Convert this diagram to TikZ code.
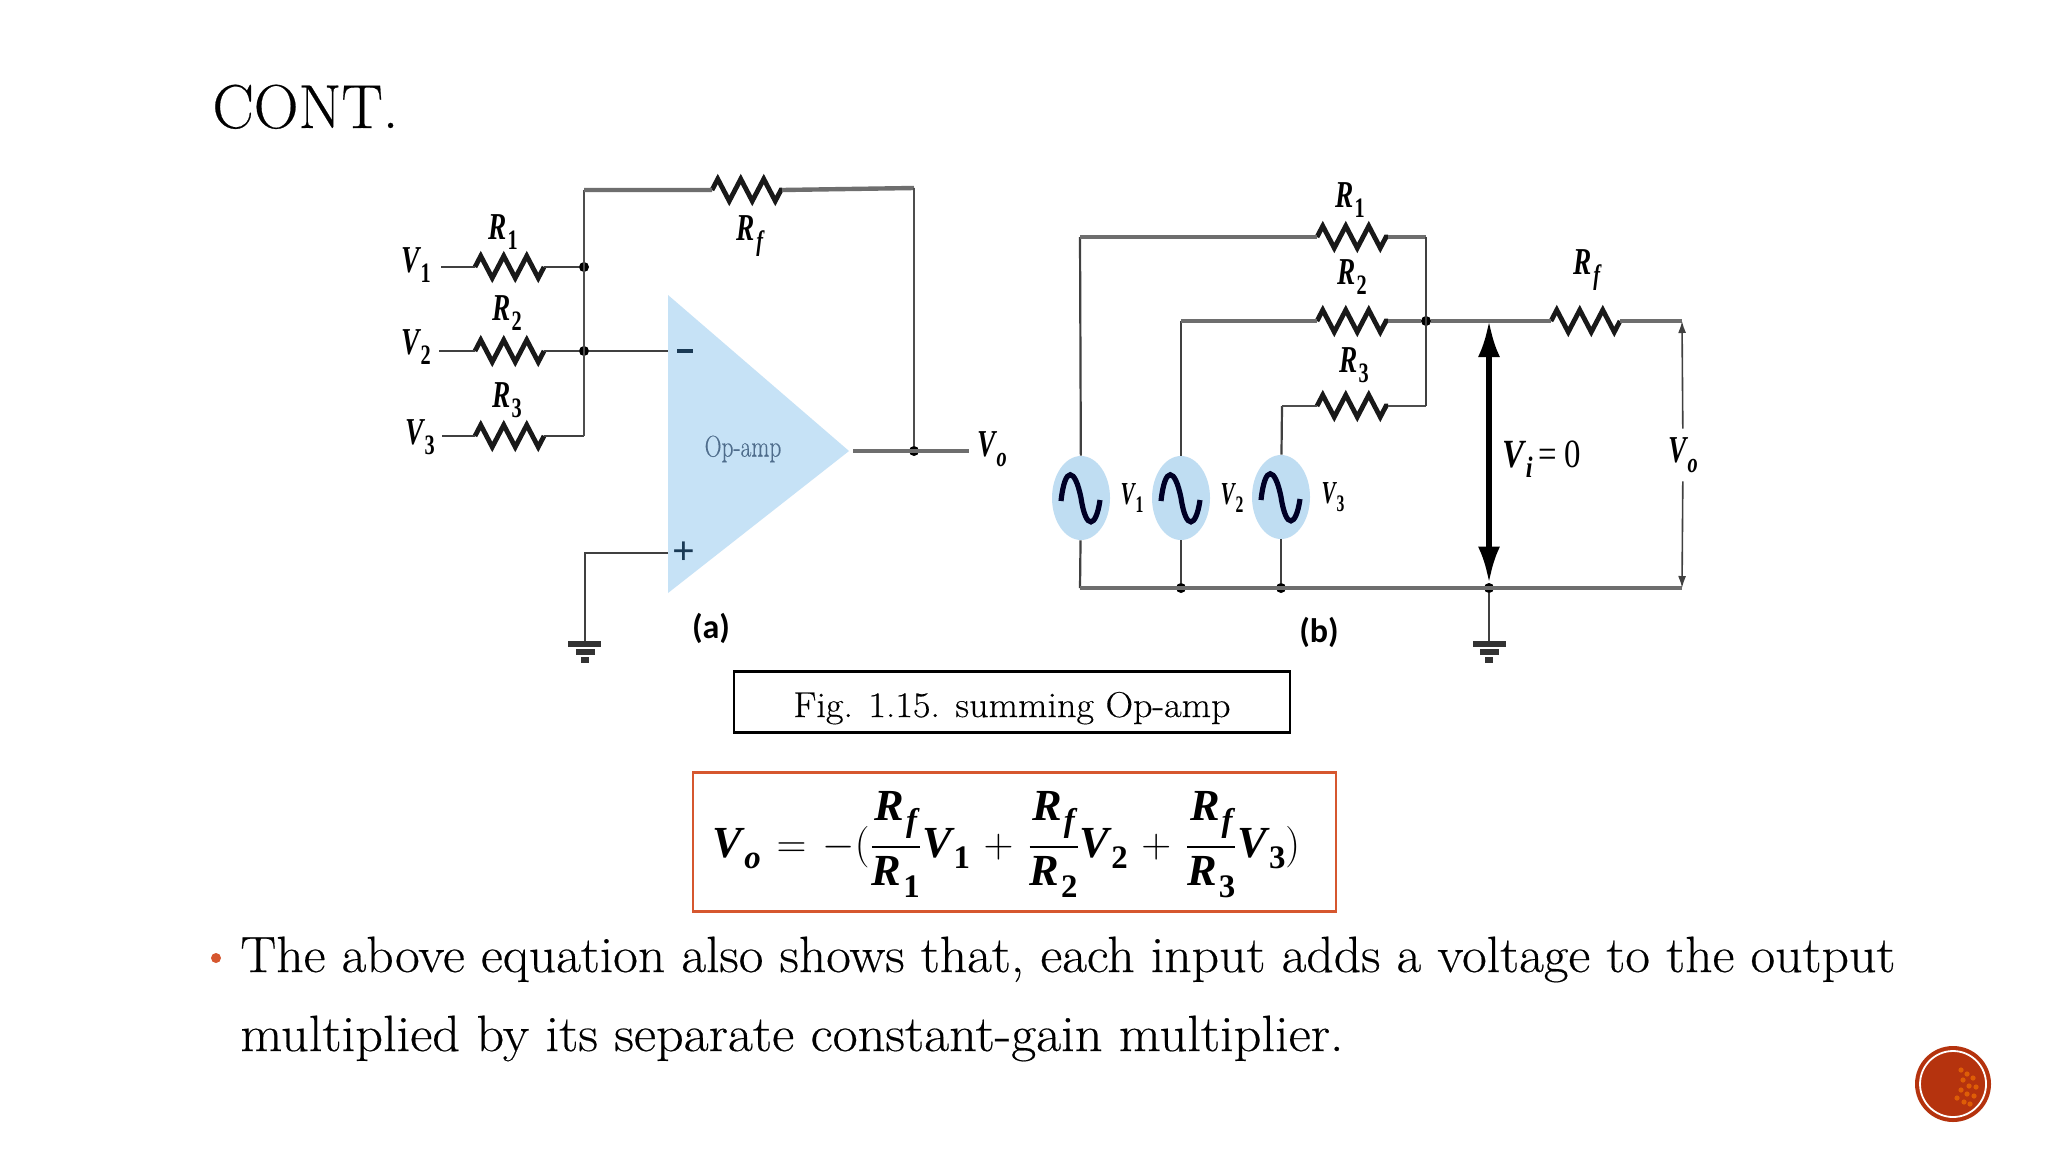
\documentclass[tikz,border=0pt]{standalone}
\usepackage{amsmath}
\usepackage{graphicx}
\usepackage{fontspec}
\usetikzlibrary{calc,arrows.meta,shapes.geometric,decorations.pathmorphing}
\setmainfont{Latin Modern Roman}[FakeBold=.35]
\newfontfamily\labelfont{Carlito}
\newfontfamily\eqfont{Liberation Serif}
\newcommand{\eqsym}[2]{\mbox{\eqfont\bfseries\itshape #1\kern.04em\raisebox{-.26em}{\fontsize{.74em}{1em}\selectfont\upshape #2}}}
\newcommand{\eqfrac}[2]{\genfrac{}{}{1.1pt}{}{#1}{#2}}
\definecolor{opblue}{HTML}{C6E2F6}
\definecolor{srcblue}{HTML}{BFDDF2}
\definecolor{slidered}{HTML}{B5330E}
\definecolor{boxred}{HTML}{D6572F}
\definecolor{wiregray}{HTML}{6E6E6E}
\definecolor{optext}{HTML}{4F6D8C}
\definecolor{signcol}{HTML}{1A3A55}
\begin{document}
\begin{tikzpicture}[x=.5pt,y=-.5pt,
				wire/.style={draw=wiregray!70!black,line width=1.4pt},
				thinwire/.style={draw=black!75,line width=1.1pt},
				fatwire/.style={draw=wiregray,line width=2.2pt},
				resistor/.style={draw=black!90,line width=2.4pt,decorate,decoration={zigzag,segment length=11.5pt,amplitude=5.5pt}},
				jdot/.style={circle,fill=black,inner sep=0pt,minimum size=5pt},
				lab/.style={inner sep=0pt,font=\fontsize{19}{22}\selectfont,xscale=.72},
				srclab/.style={inner sep=0pt,font=\fontsize{16}{19}\selectfont,xscale=.66},
				source/.style={ellipse,fill=srcblue,inner sep=0pt,minimum width=29pt,minimum height=42pt},
				sine/.style={draw=black!85!blue,line width=2.6pt},
				gbar/.style={draw=black!80,line width=2.8pt},
				tag/.style={inner sep=0pt,font=\labelfont\bfseries\fontsize{17}{20}\selectfont}]
				\path[fill=white,use as bounding box] (0,0) rectangle (2048,1152);

				\node (TITLE) [anchor=base west,inner sep=0pt,font=\fontsize{31}{36}\selectfont] at (212,128) {CONT.};

				\coordinate (TL) at (668,295);
				\coordinate (BL) at (668,593);
				\coordinate (TIP) at (849,451);
				\fill[opblue] (TL) -- (TIP) -- (BL) -- cycle;
				\node (OPAMP) [inner sep=0pt,text=optext,font=\fontsize{15}{18}\selectfont,xscale=.78] at (743,449) {Op-amp};
				\node (MINUS) [inner sep=0pt,text=signcol] at (685,351) {\rule{8pt}{2pt}};
				\node (PLUS)  [inner sep=0pt,text=signcol,font=\eqfont\bfseries\fontsize{20}{22}\selectfont] at (684,553) {+};

				\node (V1A) [lab] at (416,265) {\eqsym{V}{1}};
				\node (V2A) [lab] at (416,347) {\eqsym{V}{2}};
				\node (V3A) [lab] at (420,437) {\eqsym{V}{3}};
				\node (R1A) [lab] at (503,232) {\eqsym{R}{1}};
				\node (R2A) [lab] at (507,313) {\eqsym{R}{2}};
				\node (R3A) [lab] at (507,400) {\eqsym{R}{3}};
				\node (RFA) [lab] at (750,236) {\eqsym{R}{\itshape f}};
				\node (VOA) [lab] at (992,449) {\eqsym{V}{\itshape o}};

				\coordinate (I1) at (441,267);
				\coordinate (I2) at (439,351);
				\coordinate (I3) at (442,436);
				\coordinate (R1L) at (475,267);
				\coordinate (R1R) at (544,267);
				\coordinate (R2L) at (475,351);
				\coordinate (R2R) at (544,351);
				\coordinate (R3L) at (475,436);
				\coordinate (R3R) at (544,436);
				\coordinate (RFL) at (712,190);
				\coordinate (RFR) at (782,190);
				\coordinate (CT) at (584,190);
				\coordinate (C3) at (584,436);
				\coordinate (FT) at (914,188);
				\coordinate (NEG) at (668,351);
				\coordinate (POS) at (668,553);
				\coordinate (PC) at (585,553);
				\coordinate (GA) at (585,643);
				\coordinate (OS) at (853,451);
				\coordinate (OE) at (969,451);
				\node (J1) [jdot] at (584,267) {};
				\node (J2) [jdot] at (584,351) {};
				\node (JO) [jdot] at (914,451) {};

				\draw[resistor] (R1L) -- (R1R);
				\draw[resistor] (R2L) -- (R2R);
				\draw[resistor] (R3L) -- (R3R);
				\draw[resistor] (RFL) -- (RFR);
				\draw[thinwire] (I1) -- (R1L) (R1R) -- (J1);
				\draw[thinwire] (I2) -- (R2L) (R2R) -- (J2) -- (NEG);
				\draw[thinwire] (R3R) -- (C3) (I3) -- (R3L);
				\draw[wire] (C3) -- (CT);
				\draw[fatwire] (CT) -- (RFL) (RFR) -- (FT);
				\draw[wire] (FT) -- (JO);
				\draw[thinwire] (POS) -- (PC) -- (GA);
				\draw[fatwire] (OS) -- (OE);
				\draw[gbar] (568,644) -- (601,644) (576,652) -- (595,652) (581,660) -- (589,660);

				\node (TAGA) [tag] at (711,628) {(a)};

				\node (S1) [source] at (1081,498) {};
				\node (S2) [source] at (1181,498) {};
				\node (S3) [source] at (1281,497) {};
				\foreach \src in {S1,S2,S3}
					\draw[sine] ([shift={(-20,3)}]\src.center) .. controls +(4,-36) and +(-6,-30) .. ++(20,-3) .. controls +(5,33) and +(-4,28) .. ++(19,2);
				\node (V1B) [srclab] at (1132,498) {\eqsym{V}{1}};
				\node (V2B) [srclab] at (1232,498) {\eqsym{V}{2}};
				\node (V3B) [srclab] at (1333,497) {\eqsym{V}{3}};

				\node (R1B) [lab] at (1350,200) {\eqsym{R}{1}};
				\node (R2B) [lab] at (1352,277) {\eqsym{R}{2}};
				\node (R3B) [lab] at (1354,365) {\eqsym{R}{3}};
				\node (RFB) [lab] at (1587,270) {\eqsym{R}{\itshape f}};
				\node (VIB) [lab,font=\fontsize{20}{22}\selectfont,xscale=1.14] at (1542,459) {\eqsym{V}{\itshape i}\,{\eqfont = 0}};
				\node (VOB) [lab,fill=white,minimum height=26pt,inner xsep=2pt] at (1683,455) {\eqsym{V}{\itshape o}};

				\coordinate (A1) at (1080,237);
				\coordinate (A2) at (1181,321);
				\coordinate (A3) at (1282,406);
				\coordinate (P1L) at (1317,237);
				\coordinate (P1R) at (1388,237);
				\coordinate (P2L) at (1317,321);
				\coordinate (P2R) at (1388,321);
				\coordinate (P3L) at (1317,406);
				\coordinate (P3R) at (1388,406);
				\coordinate (PFL) at (1551,321);
				\coordinate (PFR) at (1620,321);
				\coordinate (BUS1) at (1426,237);
				\coordinate (BUS3) at (1426,406);
				\coordinate (END) at (1682,321);
				\coordinate (B1) at (1080,588);
				\coordinate (B5) at (1682,588);
				\coordinate (GB) at (1489,643);
				\node (J3) [jdot] at (1426,321) {};
				\node (J4) [jdot] at (1181,588) {};
				\node (J5) [jdot] at (1281,588) {};
				\node (J6) [jdot] at (1489,588) {};
				\coordinate (VT) at (1489,321);

				\draw[resistor] (P1L) -- (P1R);
				\draw[resistor] (P2L) -- (P2R);
				\draw[resistor] (P3L) -- (P3R);
				\draw[resistor] (PFL) -- (PFR);
				\draw[thinwire] (S1) -- (A1);
				\draw[fatwire] (A1) -- (P1L) (P1R) -- (BUS1);
				\draw[thinwire] (S2) -- (A2);
				\draw[fatwire] (A2) -- (P2L) (P2R) -- (J3) -- (PFL) (PFR) -- (END);
				\draw[thinwire] (S3) -- (A3);
				\draw[wire] (A3) -- (P3L) (P3R) -- (BUS3);
				\draw[thinwire] (BUS1) -- (BUS3);
				\draw[thinwire] (S1) -- (B1);
				\draw[thinwire] (S2) -- (J4);
				\draw[thinwire] (S3) -- (J5);
				\draw[fatwire] (B1) -- (B5);
				\draw[thinwire] (J6) -- (GB);
				\draw[black,line width=2.6pt,{Latex[length=18pt,width=11pt]}-{Latex[length=18pt,width=11pt]}] (VT) -- (J6);
				\draw[line width=.8pt,black!75,{Latex[length=6pt,width=4pt]}-] (END) -- (VOB);
				\draw[line width=.8pt,black!75,-{Latex[length=6pt,width=4pt]}] (VOB) -- (B5);
				\draw[gbar] (1473,644) -- (1506,644) (1480,652) -- (1499,652) (1485,660) -- (1493,660);

				\node (TAGB) [tag] at (1319,632) {(b)};

				\node (FIG) [draw=black,line width=1.2pt,minimum width=278pt,minimum height=30.5pt,inner sep=0pt,font=\fontsize{18}{21}\selectfont] at (1012,702) {\raisebox{-7.5pt}[0pt][0pt]{\scalebox{1.06}[1]{Fig. 1.15. summing Op-amp}}};
				\node (EQ) [draw=boxred,line width=1.2pt,minimum width=321.5pt,minimum height=69.5pt,inner sep=0pt,font=\fontsize{22.2}{27}\selectfont] at (1014.5,842) {\raisebox{-7.5pt}[0pt][0pt]{$\displaystyle \eqsym{V}{\itshape o}\kern2.25pt=\kern2.25pt-(\eqfrac{\eqsym{R}{\itshape f}}{\eqsym{R}{1}}\eqsym{V}{1}\kern2.25pt+\kern2.25pt\eqfrac{\eqsym{R}{\itshape f}}{\eqsym{R}{2}}\eqsym{V}{2}\kern2.25pt+\kern2.25pt\eqfrac{\eqsym{R}{\itshape f}}{\eqsym{R}{3}}\eqsym{V}{3})$}\kern8pt};

				\node (BUL) [circle,fill=boxred,inner sep=0pt,minimum size=5pt] at (216,958) {};
				\node (LINE1) [anchor=base west,inner sep=0pt,font=\fontsize{25.5}{30}\selectfont,xscale=1.052] at (240,972) {The above equation also shows that, each input adds a voltage to the output};
				\node (LINE2) [anchor=base west,inner sep=0pt,font=\fontsize{25.5}{30}\selectfont,xscale=1.066] at (240,1051) {multiplied by its separate constant-gain multiplier.};

				\node (BALL) [circle,fill=slidered,inner sep=0pt,minimum size=38pt] at (1953,1084) {};
				\foreach \dx/\dy in {8/-14,14/-10,20/-6,10/-4,16/2,23/3,8/6,14/10,21/12,11/18,17/20,4/14}
					\fill[orange!55!slidered] ([shift={(\dx,\dy)}]BALL.center) circle (1.3pt);
				\draw[white,line width=.9pt] (BALL.center) circle (16.5pt);
			\end{tikzpicture}
\end{document}
